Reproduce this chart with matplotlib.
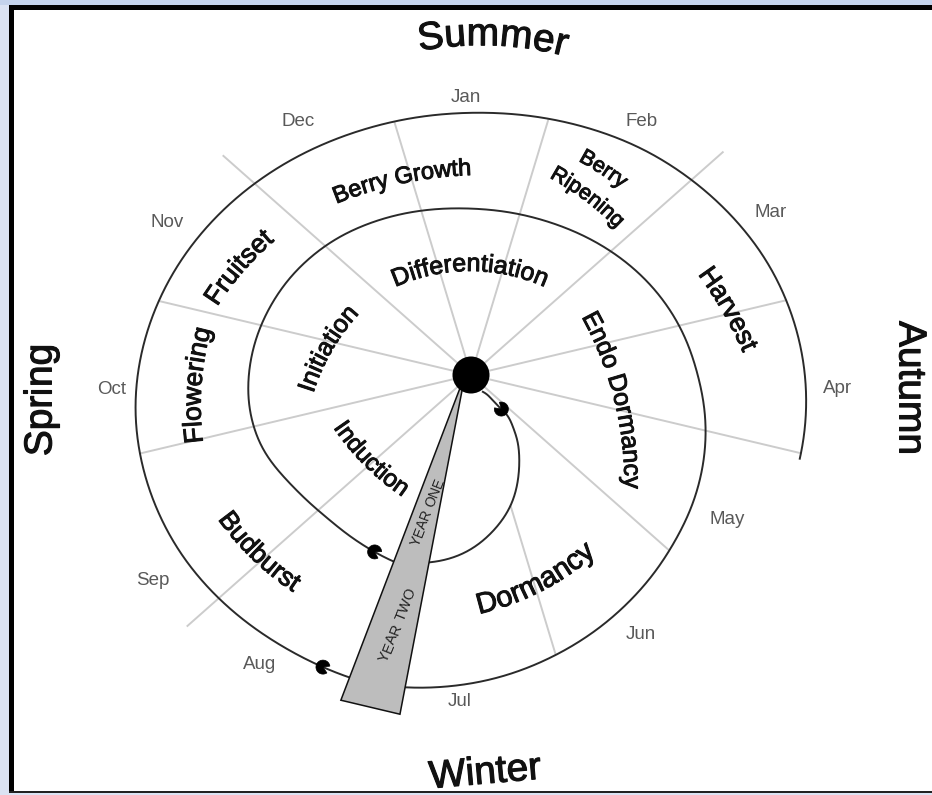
import numpy as np
import matplotlib
matplotlib.use('Agg')
import matplotlib.pyplot as plt
import matplotlib.text as mtext
import matplotlib.patheffects as pe
from matplotlib.patches import Polygon, Ellipse, Rectangle, Wedge
from matplotlib.font_manager import FontProperties, findfont
from matplotlib.ft2font import FT2Font
from matplotlib.transforms import Bbox

# ---------------- data ----------------
months = ['Jan', 'Feb', 'Mar', 'Apr', 'May', 'Jun',
          'Jul', 'Aug', 'Sep', 'Oct', 'Nov', 'Dec']
seasons = ['Summer', 'Autumn', 'Winter', 'Spring']
season_start_months = ['Dec', 'Mar', 'Jun', 'Sep']
year_start_month = 'Aug'
year_one_phases = ['Induction', 'Initiation', 'Differentiation',
                   'Endo Dormancy', 'Dormancy']
year_two_phases = ['Budburst', 'Flowering', 'Fruitset', 'Berry Growth',
                   'Berry\nRipening', 'Harvest']
year_labels = ['YEAR ONE', 'YEAR TWO']

# ---------------- layout ----------------
W, H = 932, 795
OX, OY = 471.0, 410.0      # spiral centre (px)
DX, DY = 471.0, 375.0      # hub (px)
K = 1.13                   # horizontal stretch of the drawing
FONT = 'Liberation Sans'

# spiral rings: angle (deg, clockwise from top, unwrapped) -> radius
ring_knots = {
    'A': ([30, 60, 83, 118, 138.5, 150, 161, 171, 179, 184, 194, 199],
          [21, 21, 24, 42, 63, 81, 105, 122, 139, 147, 158, 162]),
    'B': ([198, 215, 230, 245, 258, 272, 290, 310, 325, 340, 360, 380, 410,
           440, 457, 469, 487, 504, 522, 536, 552, 557],
          [167, 165, 166, 175, 189, 197, 203, 208, 209, 206, 201, 200, 202,
           203, 209, 214, 223, 237, 255, 270, 284, 287]),
    'C': ([557, 575, 600, 630, 660, 700, 720, 750, 780, 800, 819.5],
          [288, 289, 294, 297, 297, 296, 297, 302, 301, 298, 295]),
}
ring_sigma = {'A': 6.5, 'B': 5.0, 'C': 4.0}
marker_angles = {'A': 88, 'B': 211, 'C': 567}
inner_start_boundaries = ['Jul']
extend_len = 40
wedge_half = 4.5
wedge_len = 345
wedge_apex_shift = -6

# month labels: (angle from hub, distance from hub) in stretched frame
month_label_polar = [(359, 278), (30.8, 295), (58.6, 311), (92.3, 325),
                     (122.6, 269), (150, 300), (181.7, 327), (212.8, 345),
                     (233.9, 348), (267.3, 318), (299.6, 309), (328.8, 296)]

# label layout: (x, y, rotation, curvature radius, size)
phase_layout = {
    'Induction': [(370, 460, -45, -250, 17.5)],
    'Initiation': [(325, 347, 60, 220, 18)],
    'Differentiation': [(470, 263, 0, 190, 18)],
    'Endo Dormancy': [(622, 398, -76, 350, 18)],
    'Dormancy': [(537, 583, 27, -260, 21)],
    'Budburst': [(258, 553, -44, -280, 19)],
    'Flowering': [(193, 385, 86, 300, 19)],
    'Fruitset': [(237, 266, 49, 300, 19)],
    'Berry Growth': [(401, 176, 12, 400, 17)],
    'Berry\nRipening': [(604, 168, -33, 300, 15.5), (589, 195, -37, 300, 15.5)],
    'Harvest': [(730, 308, -60, 400, 19)],
}
season_layout = {
    'Summer': (493, 33, -2, 350, 28),
    'Autumn': (912, 388, -90, None, 28),
    'Winter': (485, 771, 5, None, 28),
    'Spring': (39, 400, 90, None, 28),
}
year_layout = [(427, 512, 69, 10), (397, 625, 68, 10.5)]


# ---------------- helpers ----------------
class ArcText(mtext.Text):
    """A text whose glyphs follow a circular arc (or a straight line)."""

    def __init__(self, x, y, text, rot=0.0, radius=None, **kw):
        super().__init__(x, y, text, rotation=rot, rotation_mode='anchor',
                         ha='center', va='center', **kw)
        self._arc_rot = rot
        self._arc_R = radius

    def _glyphs(self):
        fp = self.get_fontproperties()
        size = fp.get_size_in_points()
        dpi = self.figure.dpi if self.figure is not None else 100
        font = FT2Font(findfont(fp))
        font.set_size(size, 72)
        s = self.get_text()
        adv = np.array([font.load_char(ord(c)).linearHoriAdvance / 65536.0
                        for c in s]) * dpi / 72.0
        em = size * dpi / 72.0
        centers = np.cumsum(adv) - adv / 2 - adv.sum() / 2
        rho = np.radians(self._arc_rot)
        u = np.array([np.cos(rho), -np.sin(rho)])
        n = np.array([-np.sin(rho), -np.cos(rho)])
        c = np.array(self.get_position(), float)
        off = 0.32 * em
        out = []
        for ch, sc in zip(s, centers):
            if self._arc_R is None:
                p = c - off * n + sc * u
                a = 0.0
            else:
                R = self._arc_R
                cc = c - R * n
                Rb = R - off
                a = sc / Rb
                p = cc + Rb * (n * np.cos(a) + u * np.sin(a))
            t = mtext.Text(p[0], p[1], ch, rotation=np.degrees(rho - a),
                           rotation_mode='anchor', ha='center', va='baseline',
                           fontproperties=fp, color=self.get_color(),
                           zorder=self.get_zorder())
            t.set_figure(self.figure)
            t.set_transform(self.get_transform())
            t.set_clip_on(False)
            t.set_path_effects(self.get_path_effects())
            out.append(t)
        return out

    def draw(self, renderer):
        if not self.get_visible():
            return
        for t in self._glyphs():
            t.draw(renderer)
        self.stale = False

    def get_window_extent(self, renderer=None, dpi=None):
        bbs = [t.get_window_extent(renderer, dpi) for t in self._glyphs()
               if t.get_text().strip()]
        return Bbox.union(bbs)


def to_screen(th_deg, r):
    th = np.radians(th_deg)
    return OX + K * r * np.sin(th), OY - r * np.cos(th)


def hub_to_screen(ang_deg, dist):
    a = np.radians(ang_deg)
    return DX + K * dist * np.sin(a), DY - dist * np.cos(a)


def smooth_ring(th_k, r_k, sigma, step=0.25):
    th = np.arange(th_k[0], th_k[-1] + 1e-9, step)
    r = np.interp(th, th_k, r_k)
    ns = int(sigma / step)
    x = np.arange(-3 * ns, 3 * ns + 1)
    ker = np.exp(-0.5 * (x / ns) ** 2)
    ker /= ker.sum()
    left = r[0] + (r[0] - r[1]) * np.arange(3 * ns, 0, -1)
    right = r[-1] + (r[-1] - r[-2]) * np.arange(1, 3 * ns + 1)
    rp = np.concatenate([left, r, right])
    return th, np.convolve(rp, ker, mode='valid')


rings = {k: smooth_ring(*v, ring_sigma[k]) for k, v in ring_knots.items()}


def ray_hit(phi, names):
    """distance along a hub ray (stretched frame) to the outermost of rings."""
    t = np.arange(0, 520, 0.25)
    a = np.radians(phi)
    px = t * np.sin(a)
    py = (OY - DY) + t * np.cos(a)
    th = np.degrees(np.arctan2(px, py)) % 360
    r = np.hypot(px, py)
    rr = np.full_like(t, np.nan)
    who = np.full(t.shape, '', dtype=object)
    for nm in names:
        th_r, r_r = rings[nm]
        for m in range(-1, 3):
            tt = th + 360 * m
            ok = (tt >= th_r[0]) & (tt <= th_r[-1])
            val = np.interp(tt, th_r, r_r)
            better = ok & ~(val <= rr)
            rr = np.where(better, val, rr)
            who = np.where(better, nm, who)
    hit = np.where(r >= rr)[0]
    if len(hit) == 0:
        return None, None
    return t[hit[0]], who[hit[0]]


# ---------------- figure ----------------
fig = plt.figure(figsize=(W / 100, H / 100), dpi=100)
fig.patch.set_facecolor('#dbe3f3')
ax = fig.add_axes([0, 0, 1, 1])
ax.set_xlim(0, W)
ax.set_ylim(H, 0)
ax.axis('off')

ax.add_patch(Rectangle((0, 0), W, 5, fc='#c4d3ec', ec='none', zorder=0))
ax.add_patch(Rectangle((14, 10), W - 14, 781, fc='white', ec='none', zorder=0))
ax.add_patch(Rectangle((9, 5), 5, 788, fc='black', ec='none', zorder=0.5))
ax.add_patch(Rectangle((9, 5), W - 9, 5, fc='black', ec='none', zorder=0.5))
ax.add_patch(Rectangle((9, 791), W - 9, 2, fc='#222222', ec='none', zorder=0.5))

# radial month-boundary lines
line_col = '#cccccc'
for i, m in enumerate(months):
    if m == year_start_month:
        continue
    phi = (30 * i - 15) % 360
    t_end, who = ray_hit(phi, ['A', 'B', 'C'])
    if m in season_start_months and who == 'C':
        t_end += extend_len
    t_start = 0.0
    if m in inner_start_boundaries:
        t_start, _ = ray_hit(phi, ['A'])
    tt = np.array([t_start, t_end])
    xs, ys = hub_to_screen(phi, tt)
    ax.plot(xs, ys, color=line_col, lw=1.4, zorder=1, solid_capstyle='butt')

# spiral rings
for nm, (th, r) in rings.items():
    xs, ys = to_screen(th, r)
    ax.plot(xs, ys, color='#2a2a2a', lw=1.4, zorder=2)

# markers (notched blobs) at ring starts
for nm, ang in marker_angles.items():
    th, r = rings[nm]
    i = np.searchsorted(th, ang)
    x0, y0 = to_screen(th[i - 4], r[i - 4])
    x1, y1 = to_screen(th[i + 4], r[i + 4])
    pxy = np.array(to_screen(th[i], r[i]))
    d = np.array([x1 - x0, y1 - y0])
    back = np.degrees(np.arctan2(-d[1], -d[0]))
    ax.add_patch(Wedge(pxy, 7.0, back + 32, back - 32 + 360, fc='black',
                       ec='black', lw=0.5, zorder=4))

# year wedge
yi = months.index(year_start_month)
wphi = (30 * yi - 15) % 360
apex = (DX + wedge_apex_shift, DY)
p_left = hub_to_screen(wphi + wedge_half, wedge_len)
p_right = hub_to_screen(wphi - wedge_half, wedge_len)
ax.add_patch(Polygon([apex, p_left, p_right], closed=True, fc='#bdbdbd',
                     ec='#111111', lw=1.1, zorder=3))

# hub
ax.add_patch(Ellipse((DX, DY), 37, 37, fc='black', ec='none', zorder=5))

phase_fx = [pe.withStroke(linewidth=0.7, foreground='#111111')]
season_fx = [pe.withStroke(linewidth=0.8, foreground='#111111')]

# year labels
for lab, (x, y, rot, sz) in zip(year_labels, year_layout):
    ax.add_artist(ArcText(x, y, lab, rot=rot, radius=None, color='#222222',
                          fontproperties=FontProperties(family=FONT, size=sz),
                          transform=ax.transData, zorder=6))

# month labels
for m, (a, d) in zip(months, month_label_polar):
    x, y = hub_to_screen(a, d)
    ax.text(x, y, m, ha='center', va='center', color='#595959',
            fontproperties=FontProperties(family=FONT, size=13.5), zorder=6)

# phase labels
for ph in year_one_phases + year_two_phases:
    for line, (x, y, rot, R, sz) in zip(ph.split('\n'), phase_layout[ph]):
        ax.add_artist(ArcText(x, y, line, rot=rot, radius=R, color='#111111',
                              fontproperties=FontProperties(family=FONT, size=sz),
                              transform=ax.transData, zorder=6,
                              path_effects=phase_fx))

# season labels
for s in seasons:
    x, y, rot, R, sz = season_layout[s]
    ax.add_artist(ArcText(x, y, s, rot=rot, radius=R, color='#111111',
                          fontproperties=FontProperties(family=FONT, size=sz),
                          transform=ax.transData, zorder=6,
                          path_effects=season_fx))

fig.savefig('out.png', dpi=100, facecolor=fig.get_facecolor())
